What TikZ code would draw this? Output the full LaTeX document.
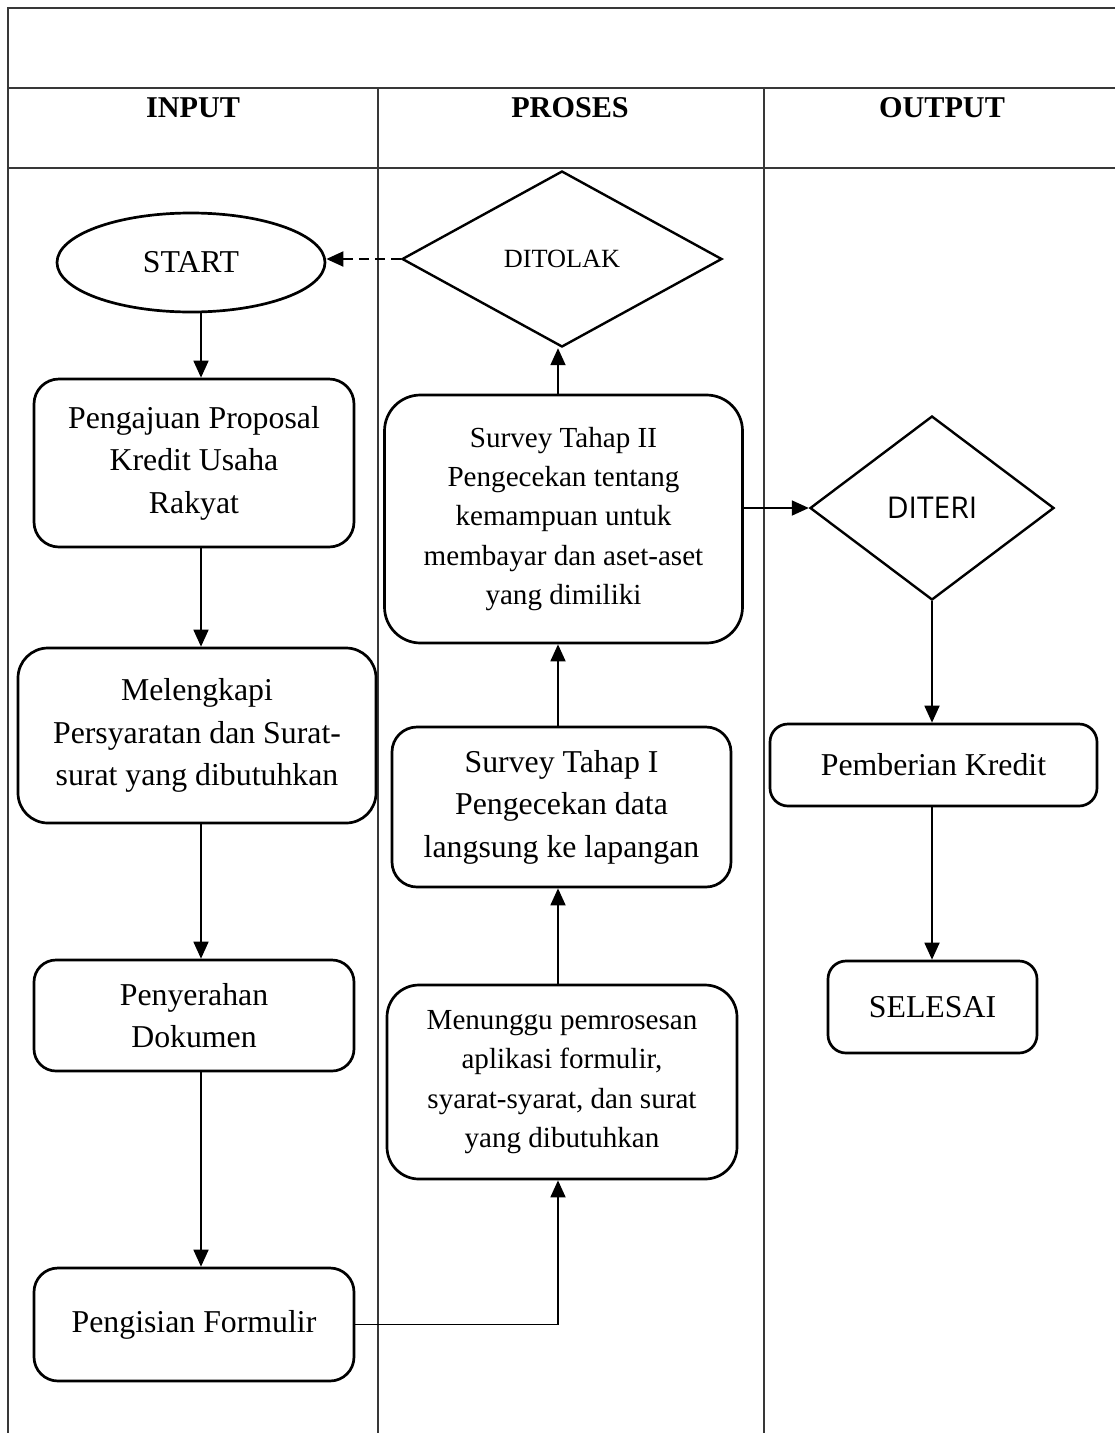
\documentclass[tikz,border=0pt]{standalone}
\usepackage{fontspec}
\setmainfont{Liberation Serif}
\newfontfamily\sansf{Open Sans}
\usetikzlibrary{shapes.geometric,arrows.meta}
\begin{document}
\begin{tikzpicture}[x=1pt,y=-1pt,
  frame/.style={line width=1.3pt, draw=black!78},
  box/.style={draw, line width=2.7pt, align=center, inner sep=0pt,
    font=\fontsize{31.8}{42.5}\selectfont},
  smalltxt/.style={font=\fontsize{29.1}{39.2}\selectfont},
  head/.style={font=\bfseries\fontsize{30.2}{34}\selectfont},
  arr/.style={line width=1.8pt, -{Triangle[length=17pt,width=15pt]}},
  dasharr/.style={arr, line width=2pt, dash pattern=on 10pt off 6pt}]
\useasboundingbox (0,0) rectangle (1115,1433);
% frame
\draw[frame] (8,1433) -- (8,8) -- (1115,8);
\draw[frame] (8,88) -- (1115,88);
\draw[frame] (8,168) -- (1115,168);
\draw[frame] (378,88) -- (378,1433);
\draw[frame] (764,88) -- (764,1433);
% headers
\node[head] (hin) at (193,108) {INPUT};
\node[head] (hpro) at (570,108) {PROSES};
\node[head] (hout) at (942,108) {OUTPUT};
% input column
\node[box, ellipse, minimum width=268, minimum height=99] (start) at (191,262.5) {START};
\node[box, rounded corners=25pt, minimum width=320, minimum height=168] (p1) at (194,463)
  {Pengajuan Proposal\\Kredit Usaha\\Rakyat};
\node[box, rounded corners=30pt, minimum width=358, minimum height=175] (p2) at (197,735.5)
  {Melengkapi\\Persyaratan dan Surat-\\surat yang dibutuhkan};
\node[box, rounded corners=22pt, minimum width=320, minimum height=111] (p3) at (194,1015.5)
  {Penyerahan\\Dokumen};
\node[box, rounded corners=24pt, minimum width=320, minimum height=113] (p4) at (194,1324.5)
  {Pengisian Formulir};
% process column
\node[box, rounded corners=32pt, smalltxt, minimum width=350, minimum height=194] (m1) at (562,1082)
  {Menunggu pemrosesan\\aplikasi formulir,\\syarat-syarat, dan surat\\yang dibutuhkan};
\node[box, rounded corners=25pt, minimum width=339, minimum height=160] (s1) at (561.5,807)
  {Survey Tahap I\\Pengecekan data\\langsung ke lapangan};
\node[box, rounded corners=36pt, smalltxt, minimum width=358, minimum height=248] (s2) at (563.5,519)
  {Survey Tahap II\\Pengecekan tentang\\kemampuan untuk\\membayar dan aset-aset\\yang dimiliki};
\node[box, diamond, line width=2.4pt, minimum width=320, minimum height=176,
  font=\fontsize{26.3}{30}\selectfont] (ditolak) at (562,259) {DITOLAK};
% output column
\node[box, diamond, line width=2.4pt, minimum width=244, minimum height=184,
  font=\sansf\fontsize{30}{34}\selectfont] (diteri) at (932,508) {DITERI};
\node[box, rounded corners=18pt, minimum width=327, minimum height=82] (pk) at (933.5,765)
  {Pemberian Kredit};
\node[box, rounded corners=18pt, minimum width=209, minimum height=92] (sel) at (932.5,1007)
  {SELESAI};
% connectors
\draw[arr] ([xshift=10pt]start.south) -- ([xshift=7pt]p1.north);
\draw[arr] ([xshift=7pt]p1.south) -- ([xshift=4pt]p2.north);
\draw[arr] ([xshift=4pt]p2.south) -- ([xshift=7pt]p3.north);
\draw[arr] ([xshift=7pt]p3.south) -- ([xshift=7pt]p4.north);
\draw[arr] (p4.east) -| ([xshift=-4pt]m1.south);
\draw[arr] ([xshift=-4pt]m1.north) -- ([xshift=-3.5pt]s1.south);
\draw[arr] ([xshift=-3.5pt]s1.north) -- ([xshift=-5.5pt]s2.south);
\draw[arr] ([xshift=-5.5pt]s2.north) -- ([xshift=-4pt]ditolak.south);
\draw[dasharr] (ditolak.west) -- (start.east |- ditolak.west);
\draw[arr] (s2.east |- diteri.west) -- (diteri.west);
\draw[arr] (diteri.south) -- (diteri.south |- pk.north);
\draw[arr] (diteri.south |- pk.south) -- (diteri.south |- sel.north);
\end{tikzpicture}
\end{document}
